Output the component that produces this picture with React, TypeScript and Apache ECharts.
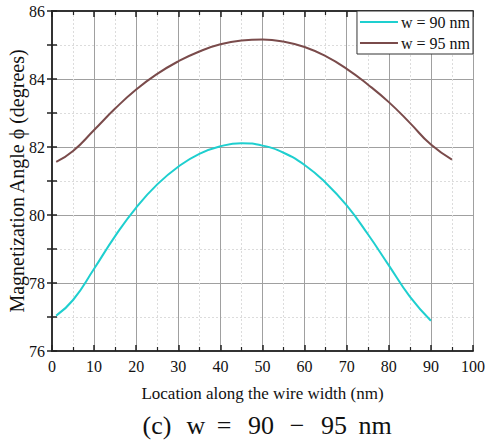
import React, { useEffect, useRef } from "react";
import * as echarts from "echarts";

const seriesNames = ["w = 90 nm", "w = 95 nm"];
const x90 = [1, 5, 10, 15, 20, 25, 30, 35, 40, 45, 50, 55, 60, 65, 70, 75, 80, 85, 90];
const y90 = [77.04, 77.5, 78.42, 79.38, 80.22, 80.9, 81.42, 81.8, 82.02, 82.11, 82.04, 81.83, 81.47, 80.95, 80.28, 79.44, 78.52, 77.6, 76.89];
const x95 = [1, 5, 10, 15, 20, 25, 30, 35, 40, 45, 50, 55, 60, 65, 70, 75, 80, 85, 90, 95];
const y95 = [81.56, 81.88, 82.5, 83.13, 83.69, 84.15, 84.52, 84.81, 85.02, 85.13, 85.16, 85.1, 84.94, 84.67, 84.3, 83.84, 83.32, 82.71, 82.07, 81.63];
const xTitle = "Location along the wire width (nm)";
const yTitle = "Magnetization Angle \u03d5 (degrees)";
const captionParts = ["(c)", "w", "=", "90", "\u2212", "95", "nm"];
const captionCenter = [157, 196, 224, 261, 297, 334, 375];

const FONT = "'Liberation Serif', 'Times New Roman', serif";

export default function App() {
  const ref = useRef<HTMLDivElement>(null);
  useEffect(() => {
    if (!ref.current) return;
    const chart = echarts.init(ref.current, null, { renderer: "svg" });
    const axisLine = { show: true, lineStyle: { color: "#333", width: 2 } };
    const xBase = {
      type: "value",
      min: 0,
      max: 100,
      interval: 10,
      axisLine,
      axisTick: { show: true, inside: true, length: 6, lineStyle: { color: "#222", width: 1.5 } },
      minorTick: { show: true, splitNumber: 2, length: 4, lineStyle: { color: "#222", width: 1.2 } },
    };
    const yBase = {
      type: "value",
      min: 76,
      max: 86,
      interval: 2,
      axisLine,
      axisTick: { show: true, inside: true, length: 5, lineStyle: { color: "#222", width: 1.5 } },
      minorTick: { show: true, splitNumber: 2, length: 5, lineStyle: { color: "#222", width: 1.5 } },
    };
    chart.setOption({
      animation: false,
      backgroundColor: "#fff",
      textStyle: { fontFamily: FONT },
      grid: { left: 52, right: 12, top: 11, bottom: 90, containLabel: false, outerBoundsMode: "none" },
      legend: {
        data: seriesNames,
        orient: "vertical",
        right: 12,
        top: 11,
        icon: "rect",
        itemWidth: 38,
        itemHeight: 2,
        itemGap: 5,
        padding: [3, 3, 3, 3],
        borderColor: "#333",
        borderWidth: 1,
        backgroundColor: "#fff",
        borderRadius: 0,
        textStyle: { fontFamily: FONT, fontSize: 16, color: "#111", padding: [0, 0, 0, -2] },
      },
      xAxis: [
        {
          ...xBase,
          position: "bottom",
          axisLabel: { fontFamily: FONT, fontSize: 16, color: "#111", margin: 7 },
          splitLine: { show: true, lineStyle: { color: "#a0a0a0", width: 1 } },
          minorSplitLine: { show: true, lineStyle: { color: "#dcdcdc", width: 1, type: [2, 2] } },
          name: xTitle,
          nameLocation: "middle",
          nameGap: 34,
          nameMoveOverlap: false,
          nameTextStyle: { fontFamily: FONT, fontSize: 17, color: "#111" },
        },
        {
          ...xBase,
          position: "top",
          axisLabel: { show: false },
          splitLine: { show: false },
        },
      ],
      yAxis: [
        {
          ...yBase,
          position: "left",
          axisLabel: { fontFamily: FONT, fontSize: 16, color: "#111", margin: 7 },
          splitLine: { show: true, lineStyle: { color: "#a0a0a0", width: 1 } },
          minorSplitLine: { show: true, lineStyle: { color: "#dcdcdc", width: 1, type: [2, 2] } },
          name: yTitle,
          nameLocation: "middle",
          nameGap: 25,
          nameMoveOverlap: false,
          nameTextStyle: { fontFamily: FONT, fontSize: 20, color: "#111" },
        },
        {
          ...yBase,
          position: "right",
          axisLabel: { show: false },
          splitLine: { show: false },
        },
      ],
      graphic: captionParts.map((t, i) => ({
        type: "text",
        x: captionCenter[i],
        y: 425,
        style: {
          text: t,
          font: `26px ${FONT}`,
          fill: "#111",
          textAlign: "center",
          textVerticalAlign: "middle",
        },
      })),
      series: [
        {
          name: seriesNames[0],
          type: "line",
          data: x90.map((x, i) => [x, y90[i]]),
          smooth: 0.5,
          showSymbol: false,
          symbol: "none",
          lineStyle: { color: "#1ecfcf", width: 2 },
          itemStyle: { color: "#1ecfcf" },
        },
        {
          name: seriesNames[1],
          type: "line",
          data: x95.map((x, i) => [x, y95[i]]),
          smooth: 0.5,
          showSymbol: false,
          symbol: "none",
          lineStyle: { color: "#7a4b4b", width: 2 },
          itemStyle: { color: "#7a4b4b" },
        },
      ],
    });
    return () => chart.dispose();
  }, []);
  return (
    <div
      ref={ref}
      style={{ position: "absolute", left: 0, top: 0, width: 485, height: 441 }}
    />
  );
}
